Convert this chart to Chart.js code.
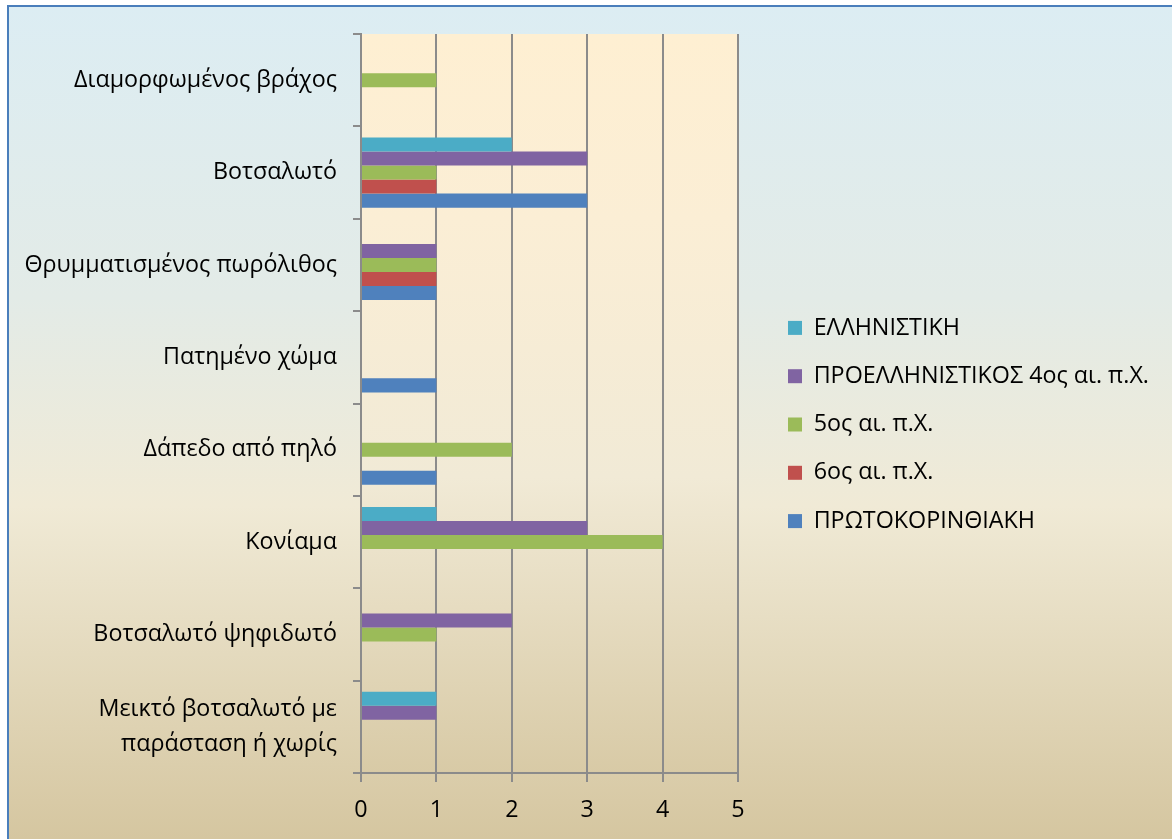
<!DOCTYPE html>
<html>
<head>
<meta charset="utf-8">
<script src="https://cdn.jsdelivr.net/npm/chart.js@4.4.1/dist/chart.umd.min.js"></script>
<style>
  body { margin: 0; background: #ffffff; }
  canvas { display: block; }
</style>
</head>
<body>
<canvas id="myChart" width="1172" height="839"></canvas>
<script>
// floor types per period (categories listed top to bottom)
const categories = [
    'Διαμορφωμένος βράχος',
    'Βοτσαλωτό',
    'Θρυμματισμένος πωρόλιθος',
    'Πατημένο χώμα',
    'Δάπεδο από πηλό',
    'Κονίαμα',
    'Βοτσαλωτό ψηφιδωτό',
    ['Μεικτό βοτσαλωτό με', 'παράσταση ή χωρίς']
];
const seriesNames = ['ΕΛΛΗΝΙΣΤΙΚΗ', 'ΠΡΟΕΛΛΗΝΙΣΤΙΚΟΣ 4ος αι. π.Χ.', '5ος αι. π.Χ.', '6ος αι. π.Χ.', 'ΠΡΩΤΟΚΟΡΙΝΘΙΑΚΗ'];
const hellenistic = [0, 2, 0, 0, 0, 1, 0, 1];
const preHellenistic = [0, 3, 1, 0, 0, 3, 2, 1];
const fifthCentury = [1, 1, 1, 0, 2, 4, 1, 0];
const sixthCentury = [0, 1, 1, 0, 0, 0, 0, 0];
const protoCorinthian = [0, 3, 1, 1, 1, 0, 0, 0];
const xTicks = [0, 1, 2, 3, 4, 5];

const seriesValues = [hellenistic, preHellenistic, fifthCentury, sixthCentury, protoCorinthian];
const seriesColors = ['#4bacc6', '#8064a2', '#9bbb59', '#c0504d', '#4f81bd'];
const gridColor = '#8b8b8b';
const labelFont = { family: '"Open Sans", "Noto Sans", sans-serif', size: 23.3 };

// outer gradient, plot area fill and the blue frame
const backdrop = {
    id: 'backdrop',
    beforeDraw(chart) {
        const ctx = chart.ctx;
        const w = chart.width;
        const h = chart.height;
        const area = chart.chartArea;
        ctx.save();
        ctx.fillStyle = '#ffffff';
        ctx.fillRect(0, 0, w, h);

        let g = ctx.createLinearGradient(0, 6, 0, h);
        g.addColorStop(0, '#dcedf3');
        g.addColorStop(0.35, '#e3ebe7');
        g.addColorStop(0.6, '#f0ead6');
        g.addColorStop(1, '#d5c6a0');
        ctx.fillStyle = g;
        ctx.fillRect(8, 6, w, h);

        g = ctx.createLinearGradient(0, area.top, 0, area.bottom);
        g.addColorStop(0, '#feefd2');
        g.addColorStop(0.25, '#fbeed5');
        g.addColorStop(0.6, '#f1ead6');
        g.addColorStop(1, '#d8caa6');
        ctx.fillStyle = g;
        ctx.fillRect(area.left, area.top, area.right - area.left, area.bottom - area.top);

        ctx.strokeStyle = '#4a7ebb';
        ctx.lineWidth = 2;
        ctx.beginPath();
        ctx.moveTo(8, h + 2);
        ctx.lineTo(8, 6);
        ctx.lineTo(w + 2, 6);
        ctx.stroke();
        ctx.restore();
    }
};

// keep label overhang from pushing the plot area around
function noOverhang(s) {
    s.paddingTop = 0;
    s.paddingBottom = 0;
    s.paddingLeft = 0;
    s.paddingRight = 0;
}

// invisible axis used only to reserve space
function spacer(axis, position, size) {
    return {
        axis: axis,
        type: 'linear',
        position: position,
        afterFit: s => {
            if (axis === 'y') s.width = size; else s.height = size;
            noOverhang(s);
        },
        grid: { display: false },
        border: { display: false },
        ticks: { display: false }
    };
}

const datasets = seriesNames.map((name, i) => ({
    label: name,
    data: seriesValues[i],
    backgroundColor: seriesColors[i],
    borderWidth: 0,
    barPercentage: 1,
    categoryPercentage: 0.76,
    xAxisID: 'x',
    yAxisID: 'y'
}));

const ctx = document.getElementById('myChart');
new Chart(ctx, {
    type: 'bar',
    data: { labels: categories, datasets: datasets },
    plugins: [backdrop],
    options: {
        indexAxis: 'y',
        responsive: false,
        animation: false,
        layout: { padding: { top: 10, left: 0, right: 24, bottom: 0 } },
        scales: {
            y: {
                position: 'left',
                afterFit: s => { s.width = 361; noOverhang(s); },
                grid: { drawOnChartArea: false, offset: true, color: gridColor, lineWidth: 2, tickLength: 8 },
                border: { color: gridColor, width: 2 },
                ticks: { color: '#000', padding: 16, font: Object.assign({ lineHeight: 1.52 }, labelFont) }
            },
            gapRight: spacer('y', 'right', 25),
            gapTop: spacer('x', 'top', 24),
            x: {
                min: 0,
                max: 5,
                afterBuildTicks: s => { s.ticks = xTicks.map(v => ({ value: v })); },
                afterFit: s => { s.height = 66; noOverhang(s); },
                grid: { color: gridColor, lineWidth: 2, tickLength: 9 },
                border: { color: gridColor, width: 2 },
                ticks: { color: '#000', padding: 14, font: labelFont }
            }
        },
        plugins: {
            tooltip: { enabled: false },
            legend: {
                position: 'right',
                maxWidth: 385,
                labels: {
                    color: '#000',
                    boxWidth: 14,
                    boxHeight: 14,
                    padding: 25,
                    font: labelFont
                }
            }
        }
    }
});
</script>
</body>
</html>
